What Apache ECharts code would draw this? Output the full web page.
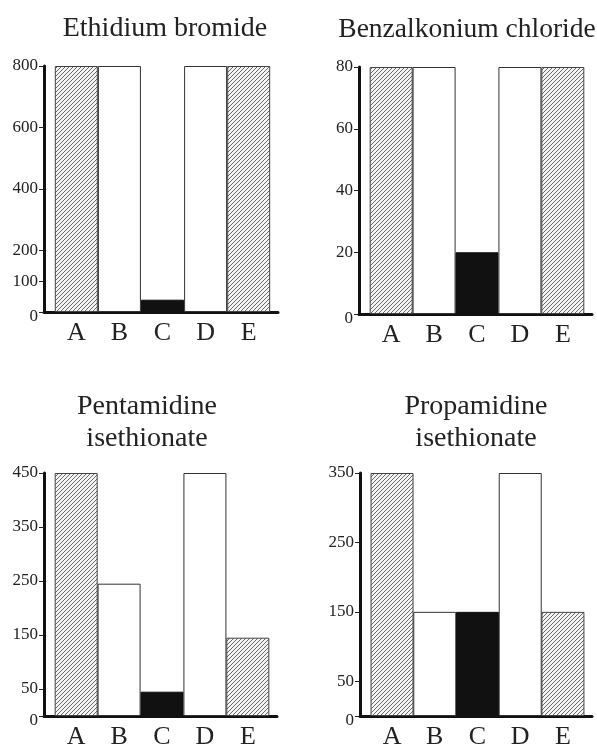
<!DOCTYPE html>
<html><head><meta charset="utf-8">
<script src="https://cdn.jsdelivr.net/npm/echarts@6/dist/echarts.min.js"></script>
<style>html,body{margin:0;padding:0;background:#fff}#c{width:597px;height:750px}</style>
</head><body><div id="c"></div>
<script>
// ---- data ----
const categories = ['A', 'B', 'C', 'D', 'E'];
const panelTitles = ['Ethidium bromide', 'Benzalkonium chloride', 'Pentamidine\nisethionate', 'Propamidine\nisethionate'];
const ethidiumValues = [800, 800, 40, 800, 800];
const benzalkoniumValues = [80, 80, 20, 80, 80];
const pentamidineValues = [450, 245, 45, 450, 145];
const propamidineValues = [350, 150, 150, 350, 150];
const ethidiumTicks = [0, 100, 200, 400, 600, 800];
const benzalkoniumTicks = [0, 20, 40, 60, 80];
const pentamidineTicks = [0, 50, 150, 250, 350, 450];
const propamidineTicks = [0, 50, 150, 250, 350];
const axisMaxima = [800, 80, 450, 350];

// ---- styling ----
function hatchCanvas() {
  const c = document.createElement('canvas');
  c.width = 4; c.height = 4;
  const g = c.getContext('2d');
  g.fillStyle = '#f4f4f4'; g.fillRect(0, 0, 4, 4);
  g.strokeStyle = '#686868'; g.lineWidth = 1;
  g.beginPath();
  g.moveTo(-1, 5); g.lineTo(5, -1);
  g.moveTo(-1, 1); g.lineTo(1, -1);
  g.moveTo(3, 5); g.lineTo(5, 3);
  g.stroke();
  return c;
}
const hatch = { image: hatchCanvas(), repeat: 'repeat' };
const fills = [
  { color: hatch, borderColor: '#444', borderWidth: 1 },
  { color: '#ffffff', borderColor: '#333', borderWidth: 1 },
  { color: '#111111', borderColor: '#111', borderWidth: 1 },
  { color: '#ffffff', borderColor: '#333', borderWidth: 1 },
  { color: hatch, borderColor: '#444', borderWidth: 1 }
];

const panels = [
  { values: ethidiumValues, ticks: ethidiumTicks, grid: { left: 44, top: 66, width: 234, height: 246 }, title: { left: 160, top: 8, size: 28 } },
  { values: benzalkoniumValues, ticks: benzalkoniumTicks, grid: { left: 359, top: 67, width: 233, height: 247 }, title: { left: 462, top: 9, size: 27.5 } },
  { values: pentamidineValues, ticks: pentamidineTicks, grid: { left: 44, top: 473, width: 233, height: 247 }, title: { left: 142, top: 386, size: 28 } },
  { values: propamidineValues, ticks: propamidineTicks, grid: { left: 360, top: 473, width: 232, height: 248 }, title: { left: 471, top: 386, size: 28 } }
];

const font = 'Liberation Serif, Times New Roman, serif';
const option = {
  animation: false,
  backgroundColor: '#ffffff',
  title: [], grid: [], xAxis: [], yAxis: [], series: []
};

panels.forEach((p, k) => {
  option.title.push({
    text: panelTitles[k], left: p.title.left, top: p.title.top, textAlign: 'center',
    textStyle: { fontFamily: font, fontSize: p.title.size, fontWeight: 'normal', color: '#222', lineHeight: 32 }
  });
  option.grid.push(Object.assign({ containLabel: false }, p.grid));
  option.xAxis.push({
    type: 'value', gridIndex: k, min: -0.75, max: 4.68,
    splitLine: { show: false },
    axisLine: { show: true, onZero: false, lineStyle: { color: '#111', width: 3 } },
    axisTick: { show: false },
    axisLabel: {
      customValues: categories.map((c, i) => i),
      formatter: v => categories[Math.round(v)],
      fontFamily: font, fontSize: 26, color: '#222', margin: 8
    }
  });
  option.yAxis.push({
    type: 'value', gridIndex: k, min: 0, max: axisMaxima[k],
    splitLine: { show: false },
    axisLine: { show: true, onZero: false, lineStyle: { color: '#111', width: 3 } },
    axisTick: { show: true, length: 5, customValues: p.ticks, lineStyle: { color: '#222', width: 1 } },
    axisLabel: {
      customValues: p.ticks,
      formatter: v => v === 0 ? '{z|0}' : String(v),
      fontFamily: font, fontSize: 17, color: '#222', margin: 6,
      rich: { z: { fontFamily: font, fontSize: 17, color: '#222', padding: [10, 0, 0, 0] } }
    }
  });
  option.series.push({
    type: 'bar', xAxisIndex: k, yAxisIndex: k, barWidth: 43,
    data: p.values.map((v, i) => ({ value: [i, v], itemStyle: fills[i] }))
  });
});

const chart = echarts.init(document.getElementById('c'), null, { renderer: 'canvas' });
chart.setOption(option);
</script>
</body></html>
